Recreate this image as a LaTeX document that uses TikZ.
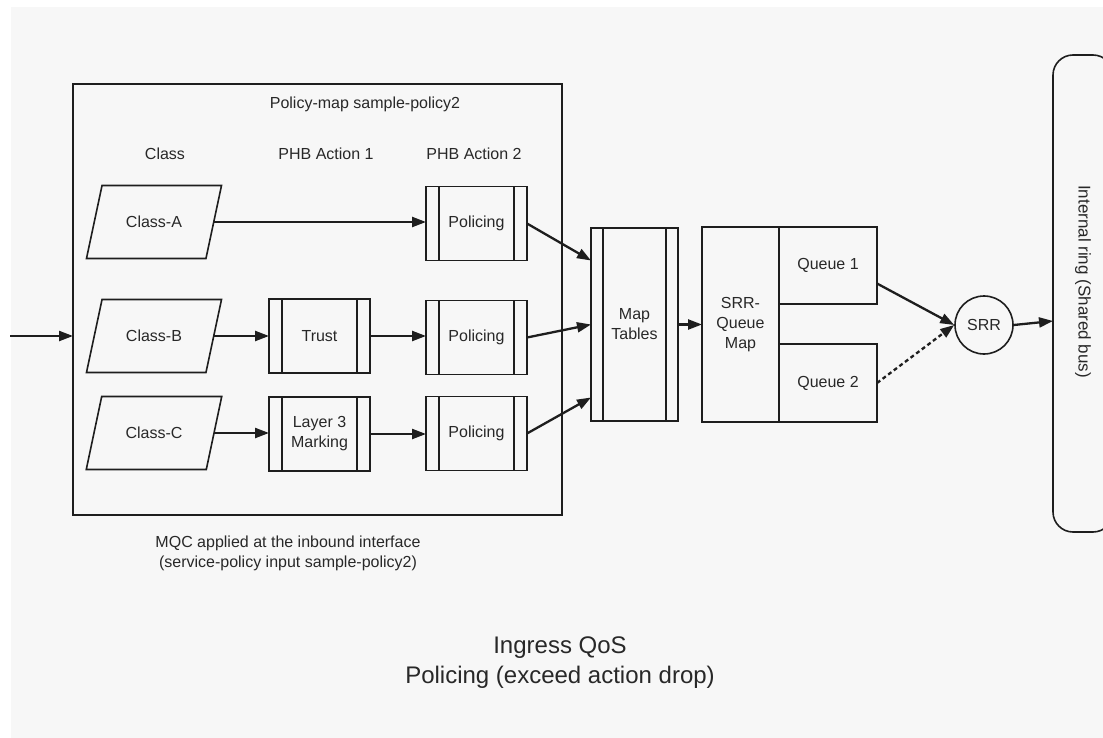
\documentclass[tikz,border=0pt]{standalone}
\usepackage{fontspec}
\setmainfont{Liberation Sans}
\usepackage{xcolor}
\definecolor{BgGray}{RGB}{247,247,247}
\definecolor{LineDark}{RGB}{30,30,30}
\definecolor{TextDark}{RGB}{40,40,40}
\usepackage{tikz}
\usetikzlibrary{
  shapes, shapes.geometric,
  arrows.meta,
  positioning, calc
}
\newcommand{\lbl}{\fontsize{16}{20}\selectfont}
\tikzset{
  % Process box with two inner bars
  procbox/.style={
    rectangle, draw=LineDark, line width=1.6pt,
    minimum width=101pt, minimum height=74pt,
    align=center, font=\lbl, text=TextDark, outer sep=0pt,
    path picture={
      \draw[line width=1.6pt, LineDark]
        ([xshift=#1]path picture bounding box.north west) -- ([xshift=#1]path picture bounding box.south west)
        ([xshift=-#1]path picture bounding box.north east) -- ([xshift=-#1]path picture bounding box.south east);
    }
  },
  procbox/.default=13pt,
  % Class parallelogram
  classbox/.style={
    trapezium, trapezium left angle=63, trapezium right angle=117,
    trapezium stretches=true,
    draw=LineDark, line width=1.6pt,
    minimum width=136pt, minimum height=73pt,
    font=\lbl, text=TextDark, outer sep=0pt
  },
  % Plain box
  plainbox/.style={
    rectangle, draw=LineDark, line width=1.6pt,
    align=center, font=\lbl, text=TextDark, outer sep=0pt
  },
  % Header text
  hdr/.style={font=\lbl, text=TextDark, inner sep=0pt},
  % Arrows
  arr/.style={-{Triangle[length=14pt,width=10pt]}, line width=2.3pt, LineDark},
  darr/.style={arr, dash pattern=on 4pt off 3pt},
}

\begin{document}
\begin{tikzpicture}[x=1pt, y=-1pt]

  \useasboundingbox[fill=white] (0,0) rectangle (1103,738);
  \fill[BgGray] (11,7) rectangle (1103,738);

  %% ---- POLICY MAP ----
  \node[draw=LineDark, line width=2.6pt, minimum width=489pt, minimum height=431pt,
        inner sep=0pt, outer sep=0pt] (pmap) at (317.5,299.5) {};
  \node[hdr] (pmtitle) at (365,104) {Policy-map sample-policy2};
  \node[hdr] (hcls)  at (165,154) {Class};
  \node[hdr] (hact1) at (326,154) {PHB Action 1};
  \node[hdr] (hact2) at (474,154) {PHB Action 2};

  %% Classes
  \node[classbox] (clsA) at (154,222) {Class-A};
  \node[classbox] (clsB) at (154,336) {Class-B};
  \node[classbox] (clsC) at (154,433) {Class-C};

  %% PHB actions
  \node[procbox] (trust) at (319.5,336) {Trust};
  \node[procbox] (mark)  at (319.5,434) {Layer 3\\Marking};
  \node[procbox] (polA)  at (476.5,223.5) {Policing};
  \node[procbox] (polB)  at (476.5,337.5) {Policing};
  \node[procbox] (polC)  at (476.5,433.5) {Policing};

  %% ---- QUEUEING ----
  \node[procbox=12pt, minimum width=87pt, minimum height=193pt] (maptab) at (634.5,324.5) {Map\\Tables};
  \node[plainbox, minimum width=77pt, minimum height=195pt] (srrq) at (740.5,324.5) {SRR-\\Queue\\Map};
  \node[plainbox, minimum width=98pt, minimum height=77pt, anchor=north west] (q1) at (srrq.north east) {Queue 1};
  \node[plainbox, minimum width=98pt, minimum height=78pt, anchor=south west] (q2) at (srrq.south east) {Queue 2};
  \node[circle, draw=LineDark, line width=1.6pt, minimum size=58pt, inner sep=0pt,
        font=\lbl, text=TextDark] (srr) at (984,325) {SRR};

  %% Internal ring
  \node[draw=LineDark, line width=1.6pt, rounded corners=20pt,
        minimum width=60pt, minimum height=477pt, outer sep=0pt] (ring) at (1083,293.5) {};
  \node[rotate=-90, font=\fontsize{17}{20}\selectfont, text=TextDark] (ringlbl) at (1083,281.5)
    {Internal ring (Shared bus)};

  \coordinate (src) at (10,336);

  %% Arrows
  \draw[arr] (src) -- (src -| pmap.west);
  \draw[arr] (clsA.east) -- (clsA.east -| polA.west);
  \draw[arr] (clsB.east) -- (clsB.east -| trust.west);
  \draw[arr] (trust.east) -- (trust.east -| polB.west);
  \draw[arr] (clsC.east) -- (clsC.east -| mark.west);
  \draw[arr] (mark.east) -- (mark.east -| polC.west);

  \draw[arr] (polA.east) -- ([yshift=64pt]maptab.west);
  \draw[arr] (polB.east) -- (maptab.west);
  \draw[arr] (polC.east) -- ([yshift=-73pt]maptab.west);

  \draw[arr]  (maptab) -- (srrq);
  \draw[arr]  ([yshift=-18pt]q1.east) -- (srr.west);
  \draw[darr] (q2.east) -- (srr.west);
  \draw[arr]  (srr.east) -- ([yshift=4pt]srr.east -| ring.west);

  %% Notes
  \node[hdr, align=center] (mqc) at (288,553)
    {MQC applied at the inbound interface\\(service-policy input sample-policy2)};
  \node[align=center, font=\fontsize{24}{30}\selectfont, text=TextDark] (caption) at (560,663)
    {Ingress QoS\\Policing (exceed action drop)};

\end{tikzpicture}
\end{document}
